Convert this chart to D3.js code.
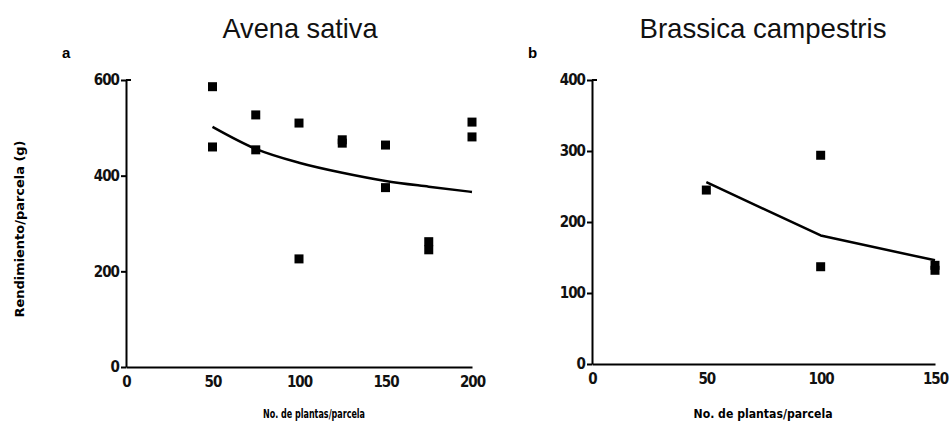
<!DOCTYPE html>
<html>
<head>
<meta charset="utf-8">
<script src="https://cdn.jsdelivr.net/npm/d3@7"></script>
<style>
  body { margin: 0; background: #fff; }
  svg { display: block; }
  .axis path, .axis line { stroke: #000; stroke-width: 2; }
  .axis text { font-family: "DejaVu Sans", sans-serif; font-stretch: condensed; font-size: 15px; font-weight: 600; fill: #111; letter-spacing: -1px; }
</style>
</head>
<body>
<div id="chart"></div>
<script>
// Avena sativa (panel a)
const avenaX = [50, 50, 75, 75, 100, 100, 125, 125, 150, 150, 175, 175, 200, 200];
const avenaY = [586, 460, 527, 454, 510, 226, 475, 468, 464, 375, 262, 245, 512, 481];
const avenaFitX = [50, 75, 100, 125, 150, 175, 200];
const avenaFitY = [502, 456, 427, 406, 389, 377, 366];
const avenaXTicks = [0, 50, 100, 150, 200];
const avenaYTicks = [0, 200, 400, 600];

// Brassica campestris (panel b)
const brassicaX = [50, 100, 100, 150, 150];
const brassicaY = [245, 294, 137, 139, 132];
const brassicaFitX = [50, 100, 150];
const brassicaFitY = [256, 181, 146];
const brassicaXTicks = [0, 50, 100, 150];
const brassicaYTicks = [0, 100, 200, 300, 400];

const width = 950, height = 433;
const svg = d3.select("#chart").append("svg")
    .attr("width", width)
    .attr("height", height);

function drawPanel(p) {
    let x = d3.scaleLinear().domain(p.xDomain).range(p.xRange);
    let y = d3.scaleLinear().domain(p.yDomain).range(p.yRange);
    let g = svg.append("g");

    // axes
    g.append("g")
        .attr("class", "axis")
        .attr("transform", `translate(0, ${p.yRange[0]})`)
        .call(d3.axisBottom(x).tickValues(p.xTicks).tickSize(0).tickSizeOuter(0).tickPadding(9));

    g.append("g")
        .attr("class", "axis")
        .attr("transform", `translate(${p.xRange[0]}, 0)`)
        .call(d3.axisLeft(y).tickValues(p.yTicks).tickSize(5).tickSizeOuter(0).tickPadding(2));

    // little hook at the top of the y axis
    g.append("line")
        .attr("x1", p.xRange[0]).attr("x2", p.xRange[0] + 5)
        .attr("y1", y(p.yDomain[1])).attr("y2", y(p.yDomain[1]))
        .attr("stroke", "#000").attr("stroke-width", 2);

    // fitted line
    let fit = p.fitX.map((v, i) => [v, p.fitY[i]]);
    g.append("path")
        .datum(fit)
        .attr("fill", "none")
        .attr("stroke", "#000")
        .attr("stroke-width", 2.5)
        .attr("stroke-linejoin", "round")
        .attr("d", d3.line().x(d => x(d[0])).y(d => y(d[1])).curve(p.curve));

    // observations
    let pts = p.px.map((v, i) => [v, p.py[i]]);
    let s = 9;
    g.selectAll("rect.pt")
        .data(pts)
        .enter()
        .append("rect")
        .attr("class", "pt")
        .attr("x", d => x(d[0]) - s / 2)
        .attr("y", d => y(d[1]) - s / 2)
        .attr("width", s)
        .attr("height", s)
        .attr("fill", "#000");

    // title
    svg.append("text")
        .attr("x", p.titleX).attr("y", 38)
        .attr("text-anchor", "middle")
        .attr("textLength", p.titleW)
        .attr("lengthAdjust", "spacingAndGlyphs")
        .style("font-family", "'Liberation Sans', Arial, sans-serif")
        .style("font-size", "28px")
        .style("fill", "#111")
        .text(p.title);

    // panel letter
    svg.append("text")
        .attr("x", p.letterX).attr("y", 58)
        .style("font-family", "'Liberation Sans', Arial, sans-serif")
        .style("font-size", "15px")
        .style("font-weight", "bold")
        .text(p.letter);

    // x axis label
    svg.append("text")
        .attr("x", p.xLabelX).attr("y", 418)
        .attr("text-anchor", "middle")
        .attr("textLength", p.xLabelW)
        .attr("lengthAdjust", "spacingAndGlyphs")
        .style("font-family", "'DejaVu Sans', sans-serif")
        .style("font-size", "12px")
        .style("font-weight", "600")
        .text("No. de plantas/parcela");
}

drawPanel({
    xDomain: [0, 200], xRange: [126, 472],
    yDomain: [0, 600], yRange: [367, 80],
    xTicks: avenaXTicks, yTicks: avenaYTicks,
    px: avenaX, py: avenaY, fitX: avenaFitX, fitY: avenaFitY,
    curve: d3.curveMonotoneX,
    title: "Avena sativa", titleX: 300, titleW: 155,
    letter: "a", letterX: 62,
    xLabelX: 314, xLabelW: 102
});

drawPanel({
    xDomain: [0, 150], xRange: [592, 935],
    yDomain: [0, 400], yRange: [364, 80],
    xTicks: brassicaXTicks, yTicks: brassicaYTicks,
    px: brassicaX, py: brassicaY, fitX: brassicaFitX, fitY: brassicaFitY,
    curve: d3.curveLinear,
    title: "Brassica campestris", titleX: 763, titleW: 247,
    letter: "b", letterX: 528,
    xLabelX: 763, xLabelW: 139
});

// y axis label of panel a
svg.append("text")
    .attr("transform", "translate(24, 229) rotate(-90)")
    .attr("text-anchor", "middle")
    .attr("textLength", 177)
    .attr("lengthAdjust", "spacingAndGlyphs")
    .style("font-family", "'DejaVu Sans', sans-serif")
    .style("font-size", "12px")
    .style("font-weight", "600")
    .text("Rendimiento/parcela (g)");
</script>
</body>
</html>
